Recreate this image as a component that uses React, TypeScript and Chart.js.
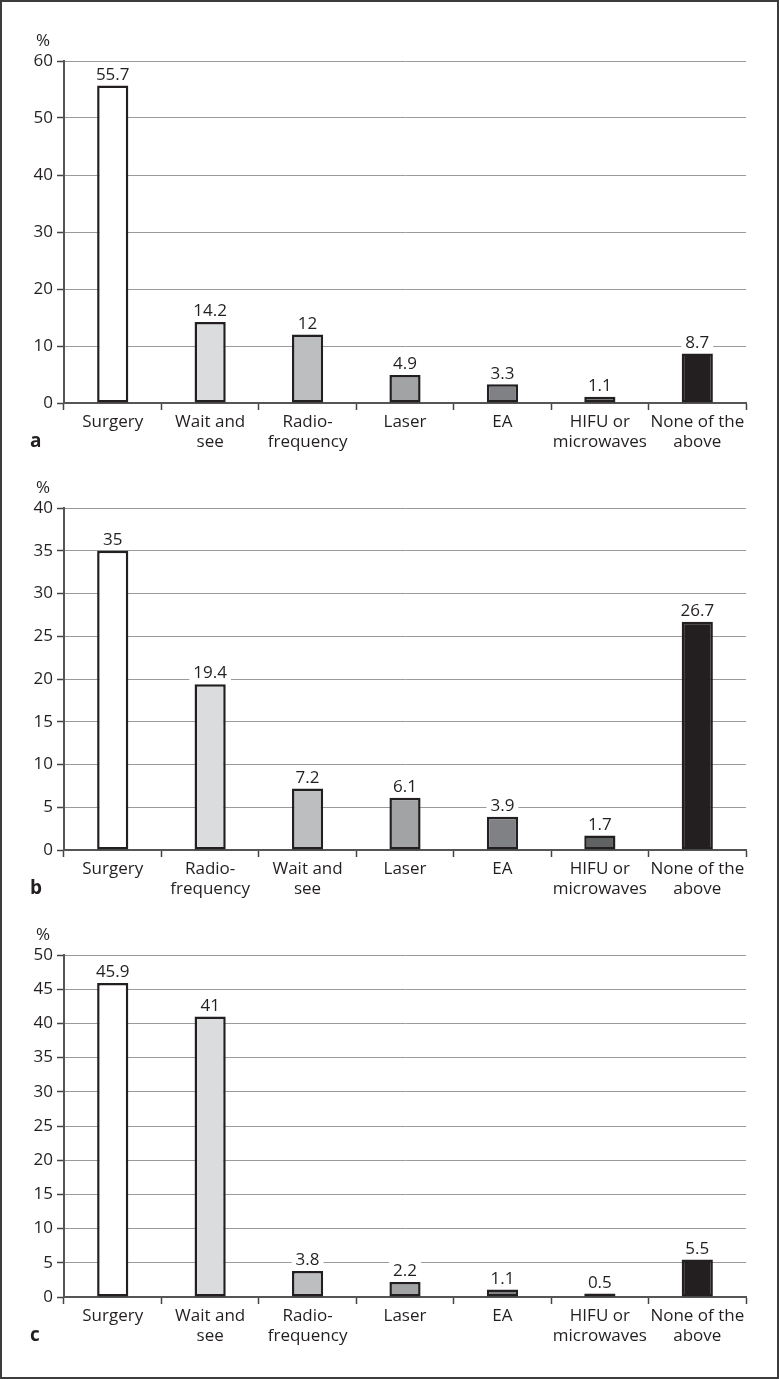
import React, { useEffect, useRef } from 'react'
import { Chart, registerables } from 'chart.js'

Chart.register(...registerables)

const CATS_A = ['Surgery', ['Wait and', 'see'], ['Radio-', 'frequency'], 'Laser', 'EA', ['HIFU or', 'microwaves'], ['None of the', 'above']]
const VALUES_A = [55.7, 14.2, 12, 4.9, 3.3, 1.1, 8.7]

const CATS_B = ['Surgery', ['Radio-', 'frequency'], ['Wait and', 'see'], 'Laser', 'EA', ['HIFU or', 'microwaves'], ['None of the', 'above']]
const VALUES_B = [35, 19.4, 7.2, 6.1, 3.9, 1.7, 26.7]

const CATS_C = ['Surgery', ['Wait and', 'see'], ['Radio-', 'frequency'], 'Laser', 'EA', ['HIFU or', 'microwaves'], ['None of the', 'above']]
const VALUES_C = [45.9, 41, 3.8, 2.2, 1.1, 0.5, 5.5]

// bar fill by position, left to right
const FILLS = ['#ffffff', '#dbdcde', '#bdbec0', '#a2a3a5', '#808184', '#616264', '#231f20']

const FONT = '"Open Sans", "Noto Sans", sans-serif'
const INK = '#231f20'

const PANEL_W = 779
const PANEL_H = 475 // taller than the 447px panel step so the 2nd label line fits
const PLOT_BOTTOM = 403

type Cat = string | string[]

function makeDeco(letter: string) {
  return {
    id: 'panelDeco',
    afterDatasetsDraw(chart: Chart) {
      const ctx = chart.ctx
      const { chartArea } = chart
      ctx.save()
      // value labels
      ctx.font = `17px ${FONT}`
      ctx.textAlign = 'center'
      ctx.textBaseline = 'bottom'
      const meta = chart.getDatasetMeta(0)
      const data = chart.data.datasets[0].data as number[]
      meta.data.forEach((bar: any, i: number) => {
        const txt = String(data[i])
        const w = ctx.measureText(txt).width
        const yb = bar.y - 2
        ctx.fillStyle = '#ffffff'
        ctx.fillRect(bar.x - w / 2 - 4, yb - 19, w + 8, 18)
        ctx.fillStyle = INK
        ctx.fillText(txt, bar.x, yb)
      })
      // unit and panel letter
      ctx.textAlign = 'center'
      ctx.textBaseline = 'middle'
      ctx.fillStyle = INK
      ctx.font = `17px ${FONT}`
      ctx.fillText('%', 43, chartArea.top - 20)
      ctx.font = `bold 19px ${FONT}`
      ctx.textAlign = 'left'
      ctx.fillText(letter, 30, chartArea.bottom + 39)
      ctx.restore()
    },
  }
}

function Panel({ top, cats, values, max, step, letter }: { top: number; cats: Cat[]; values: number[]; max: number; step: number; letter: string }) {
  const ref = useRef<HTMLCanvasElement>(null)

  useEffect(() => {
    if (!ref.current) return
    const chart = new Chart(ref.current, {
      type: 'bar',
      data: {
        labels: cats as any,
        datasets: [{
          data: values,
          backgroundColor: FILLS,
          borderColor: INK,
          borderWidth: 2.5,
          borderSkipped: false,
          barPercentage: 0.32,
          categoryPercentage: 1,
        }],
      },
      options: {
        responsive: false,
        animation: false,
        devicePixelRatio: 1,
        layout: { padding: { top: 61, left: 0, right: 33, bottom: 0 } },
        plugins: { legend: { display: false }, tooltip: { enabled: false } },
        scales: {
          x: {
            afterFit: (s: any) => { s.height = PANEL_H - PLOT_BOTTOM },
            grid: { display: true, drawOnChartArea: false, drawTicks: true, tickLength: 7, offset: true, tickColor: '#444', tickWidth: 1.5 },
            border: { color: '#555', width: 2 },
            ticks: { color: INK, font: { family: FONT, size: 17, lineHeight: 1.2 }, padding: 2, maxRotation: 0, autoSkip: false },
          },
          y: {
            min: 0,
            max,
            afterFit: (s: any) => { s.width = 64 },
            grid: { color: '#9a9a9a', lineWidth: 1, tickLength: 7, tickColor: '#444', tickWidth: 1.5 },
            border: { color: '#555', width: 2 },
            ticks: { stepSize: step, color: INK, font: { family: FONT, size: 17 }, padding: 4 },
          },
        },
      },
      plugins: [makeDeco(letter)],
    })
    return () => chart.destroy()
  }, [])

  return (
    <canvas
      ref={ref}
      width={PANEL_W}
      height={PANEL_H}
      style={{ position: 'absolute', left: 0, top, width: PANEL_W, height: PANEL_H }}
    />
  )
}

export default function App() {
  useEffect(() => {
    document.body.style.margin = '0'
  }, [])

  return (
    <div style={{ position: 'relative', width: 779, height: 1379, background: '#fff', overflow: 'hidden' }}>
      <Panel top={0} cats={CATS_A} values={VALUES_A} max={60} step={10} letter="a" />
      <Panel top={447} cats={CATS_B} values={VALUES_B} max={40} step={5} letter="b" />
      <Panel top={894} cats={CATS_C} values={VALUES_C} max={50} step={5} letter="c" />
      <div style={{ position: 'absolute', inset: 0, border: '2px solid #3c3c3c', pointerEvents: 'none' }} />
    </div>
  )
}
